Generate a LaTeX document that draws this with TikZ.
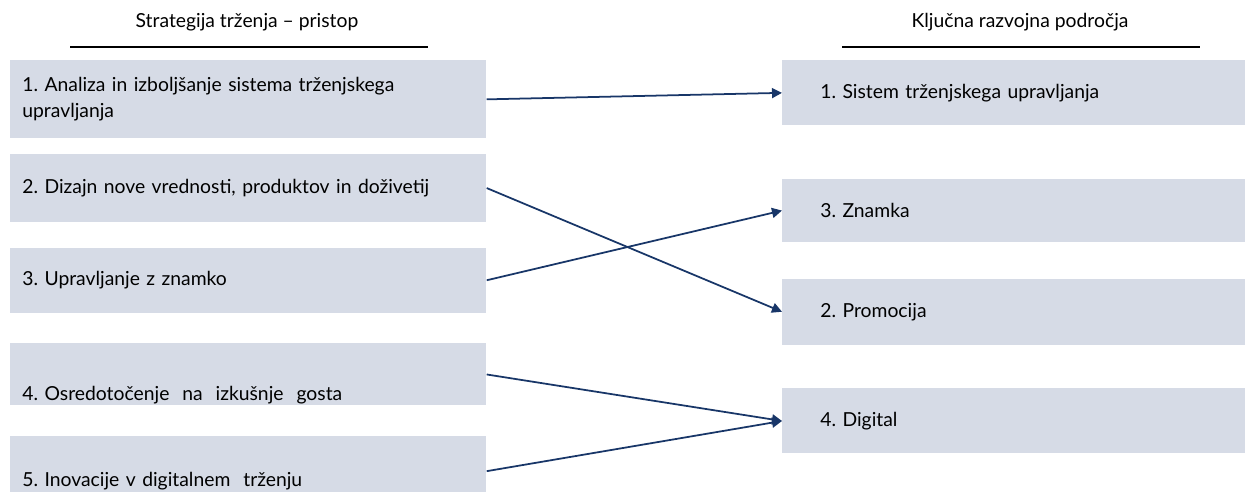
\documentclass[tikz,border=0pt]{standalone}
\usepackage{fontspec}
\setmainfont{Lato}
\usetikzlibrary{positioning}
\usetikzlibrary{arrows.meta}
\definecolor{boxfill}{RGB}{214,219,230}
\definecolor{linkblue}{RGB}{24,54,104}
\frenchspacing

\begin{document}
\begin{tikzpicture}[node distance=0.3cm,every node/.style={font=\fontsize{11}{15}\selectfont},
	lbox/.style={fill=boxfill,text width=9.04cm,inner xsep=0.24cm,inner ysep=0pt,align=left},
	rbox/.style={fill=boxfill,text width=7.74cm,inner xsep=0.76cm,inner ysep=0pt,align=left},
	rule/.style={line width=0.8pt},
	link/.style={color=linkblue,line width=1pt,-{Triangle[length=5.7pt,width=5.7pt]}}]
	\useasboundingbox (0,0) rectangle (24.9,-9.84);
	% headings
	\node (hl) at (4.94,-0.44) {Strategija trženja – pristop};
	\node (hr) at (20.4,-0.44) {Ključna razvojna področja};
	\draw[rule] (1.4,-0.94) -- (8.56,-0.94);
	\draw[rule] (16.84,-0.94) -- (24.0,-0.94);
	% left column
	\node (l1) [lbox,minimum height=1.56cm,anchor=north west] at (0.2,-1.2) {1. Analiza in izboljšanje sistema trženjskega\\upravljanja};
	\node (l2) [lbox,minimum height=1.36cm,below=0.3cm of l1] {2. Dizajn nove vrednosti, produktov in doživetij};
	\node (l3) [lbox,minimum height=1.3cm,below=0.5cm of l2] {3. Upravljanje z znamko};
	\node (l4) [lbox,text height=1.14cm,text depth=0.1cm,below=0.6cm of l3] {4. Osredotočenje\ \ na\ \ izkušnje\ \ gosta};
	\node (l5) [lbox,text height=1.0cm,text depth=0.18cm,below=0.6cm of l4] {5. Inovacije v digitalnem\ \ trženju};
	% right column
	\node (r1) [rbox,minimum height=1.3cm,anchor=north west] at (15.64,-1.2) {1. Sistem trženjskega upravljanja};
	\node (r3) [rbox,minimum height=1.26cm,below=1.06cm of r1] {3. Znamka};
	\node (r2) [rbox,minimum height=1.32cm,below=0.72cm of r3] {2. Promocija};
	\node (r4) [rbox,minimum height=1.3cm,below=0.86cm of r2] {4. Digital};
    \path[link]
        (l1.east) edge (r1.west)
        (l2.east) edge (r2.west)
        (l3.east) edge (r3.west)
        (l4.east) edge (r4.west)
        ([yshift=-0.11cm]l5.east) edge (r4.west);
\end{tikzpicture}
\end{document}
